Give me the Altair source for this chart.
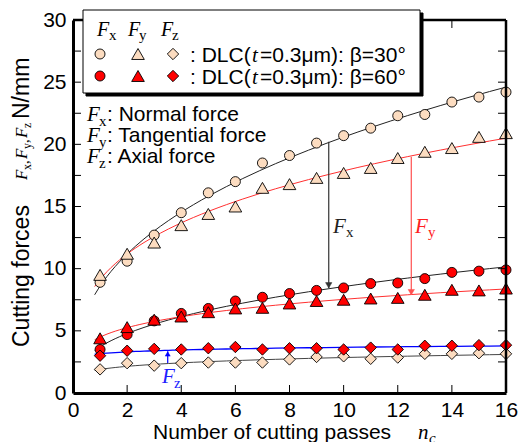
import altair as alt
import pandas as pd

# ---------------- data ----------------
n_passes = list(range(1, 17))
fx_b30 = [8.9, 10.6, 12.7, 14.5, 16.1, 17.0, 18.5, 19.1, 20.1, 20.7, 21.3, 22.3, 22.4, 23.4, 23.8, 24.2]
fy_b30 = [9.5, 11.2, 12.1, 13.5, 14.4, 15.0, 16.5, 16.8, 17.3, 17.7, 18.1, 18.9, 19.4, 19.7, 20.6, 20.9]
fz_b30 = [1.9, 2.4, 2.2, 2.4, 2.45, 2.45, 2.45, 2.7, 2.9, 2.95, 2.75, 2.85, 3.15, 3.15, 3.2, 3.15]
fx_b60 = [3.5, 4.7, 5.8, 6.4, 6.8, 7.4, 7.7, 8.0, 8.25, 8.45, 8.8, 8.85, 9.2, 9.7, 9.8, 9.9]
fy_b60 = [4.4, 5.3, 5.9, 6.15, 6.5, 6.8, 6.85, 7.2, 7.4, 7.5, 7.6, 7.65, 7.9, 8.3, 8.25, 8.4]
fz_b60 = [3.0, 3.4, 3.55, 3.5, 3.6, 3.7, 3.5, 3.6, 3.6, 3.5, 3.65, 3.5, 3.8, 3.8, 3.85, 3.85]

x_label_values = [0, 2, 4, 6, 8, 10, 12, 14, 16]
y_label_values = [0, 5, 10, 15, 20, 25, 30]
x_minor = [2, 4, 6, 8, 10, 12, 14]
y_minor = [2.5, 5, 7.5, 10, 12.5, 15, 17.5, 20, 22.5, 25, 27.5]

# arrows: x position, start value, tip value
arrow_fx = [9.45, 20.2, 8.45]
arrow_fy = [12.5, 19.0, 7.9]
arrow_fz = [3.5, 2.42, 3.35]

# ---------------- layout ----------------
W, H = 433, 373
L, T = 73, 20
SANS = "Liberation Sans"
SERIF = "Liberation Serif"
BEIGE = "#FCDCC0"
RED = "#FF0000"

rows = []
for comp, beta, vals in [("Fx", 30, fx_b30), ("Fy", 30, fy_b30), ("Fz", 30, fz_b30),
                         ("Fx", 60, fx_b60), ("Fy", 60, fy_b60), ("Fz", 60, fz_b60)]:
    for n, v in zip(n_passes, vals):
        rows.append({"n": n, "v": v, "comp": comp, "beta": beta})
df = pd.DataFrame(rows)

xs = alt.Scale(domain=[0, 16], nice=False, zero=False)
ys = alt.Scale(domain=[0, 30], nice=False)
xaxis = alt.Axis(values=x_label_values, title=None, ticks=False, grid=False,
                 labelFont=SANS, labelFontSize=21, labelColor="black", labelPadding=6,
                 labelFlush=False, labelOverlap=False, domainColor="black", domainWidth=3)
yaxis = alt.Axis(values=y_label_values, title=None, ticks=False, grid=False,
                 labelFont=SANS, labelFontSize=21, labelColor="black", labelPadding=7,
                 labelOverlap=False, domainColor="black", domainWidth=3)
X = alt.X("n:Q", scale=xs, axis=xaxis)
Y = alt.Y("v:Q", scale=ys, axis=yaxis)

base = alt.Chart(df)


def series(comp, beta):
    return base.transform_filter((alt.datum.comp == comp) & (alt.datum.beta == beta))


def fit(comp, beta, color, width=1.0):
    return (series(comp, beta)
            .transform_regression("n", "v", method="pow", extent=[0.8, 16])
            .mark_line(color=color, strokeWidth=width)
            .encode(x=X, y=Y))


def pts(comp, beta, shape, fill, size):
    return (series(comp, beta)
            .mark_point(shape=shape, filled=True, fill=fill, stroke="black", strokeWidth=0.9,
                        size=size, opacity=1, fillOpacity=1, strokeOpacity=1)
            .encode(x=X, y=Y))


one = alt.Data(values=[{"a": 1}])


def txt(s, x, y, size=21, font=SANS, style="normal", color="black", angle=0,
        align="left", baseline="alphabetic"):
    return alt.Chart(one).mark_text(
        text=s, font=font, fontSize=size, fontStyle=style, color=color, angle=angle,
        align=align, baseline=baseline).encode(x=alt.value(x - L), y=alt.value(y - T))


def sym(shape, fill, x, y, size):
    return alt.Chart(one).mark_point(
        shape=shape, filled=True, fill=fill, stroke="black", strokeWidth=0.9, size=size,
        opacity=1, fillOpacity=1, strokeOpacity=1).encode(x=alt.value(x - L), y=alt.value(y - T))


def arrow(spec, color, width, head_size, up=False):
    a = pd.DataFrame({"x": [spec[0]], "y1": [spec[1]], "y2": [spec[2]]})
    line = alt.Chart(a).mark_rule(color=color, strokeWidth=width).encode(
        x=alt.X("x:Q", scale=xs, axis=xaxis),
        y=alt.Y("y1:Q", scale=ys, axis=yaxis), y2="y2:Q")
    head = alt.Chart(a).mark_point(
        shape="triangle-up" if up else "triangle-down", filled=True, fill=color,
        stroke=color, strokeWidth=0.5, size=head_size, opacity=1,
        yOffset=2.6 if up else -2.6).encode(
        x=alt.X("x:Q", scale=xs, axis=xaxis), y=alt.Y("y2:Q", scale=ys, axis=yaxis))
    return [line, head]


# minor ticks (inward)
ytk = pd.DataFrame({"t": y_minor})
xtk = pd.DataFrame({"t": x_minor})
ticks = [
    alt.Chart(ytk).mark_rule(color="black", strokeWidth=1).encode(
        y=alt.Y("t:Q", scale=ys, axis=yaxis), x=alt.value(0), x2=alt.value(8)),
    alt.Chart(ytk).mark_rule(color="black", strokeWidth=1).encode(
        y=alt.Y("t:Q", scale=ys, axis=yaxis), x=alt.value(W - 8), x2=alt.value(W)),
    alt.Chart(xtk).mark_rule(color="black", strokeWidth=1).encode(
        x=alt.X("t:Q", scale=xs, axis=xaxis), y=alt.value(H), y2=alt.value(H - 8)),
    alt.Chart(xtk).mark_rule(color="black", strokeWidth=1).encode(
        x=alt.X("t:Q", scale=xs, axis=xaxis), y=alt.value(0), y2=alt.value(8)),
]

frame = [
    alt.Chart(one).mark_rule(color="black", strokeWidth=2.5).encode(
        x=alt.value(0), x2=alt.value(W), y=alt.value(0)),
    alt.Chart(one).mark_rule(color="black", strokeWidth=2.5).encode(
        x=alt.value(W), y=alt.value(0), y2=alt.value(H)),
]

fits = [
    fit("Fx", 30, "#222222"),
    fit("Fy", 30, "#FF3030"),
    fit("Fz", 30, "#444444"),
    fit("Fx", 60, "#222222"),
    fit("Fy", 60, "#FF3030"),
    fit("Fz", 60, "#0000FF", 1.3),
]

arrows = arrow(arrow_fx, "#333333", 1.2, 40) + arrow(arrow_fy, "#FF5050", 1.2, 40) + \
    arrow(arrow_fz, "#0000FF", 1.2, 25, up=True)

points = [
    pts("Fx", 30, "circle", BEIGE, 100),
    pts("Fy", 30, "triangle-up", BEIGE, 160),
    pts("Fz", 30, "diamond", BEIGE, 130),
    pts("Fx", 60, "circle", RED, 100),
    pts("Fy", 60, "triangle-up", RED, 160),
    pts("Fz", 60, "diamond", RED, 130),
]

# legend box with shadow
legend = [
    alt.Chart(one).mark_rect(fill="black", stroke="black").encode(
        x=alt.value(86 - L), x2=alt.value(423 - L), y=alt.value(13 - T), y2=alt.value(96 - T)),
    alt.Chart(one).mark_rect(fill="white", stroke="black", strokeWidth=1).encode(
        x=alt.value(83 - L), x2=alt.value(420 - L), y=alt.value(10 - T), y2=alt.value(93 - T)),
    txt("F", 97, 36, 20, SERIF, "italic"), txt("x", 109, 40, 15, SERIF),
    txt("F", 128, 36, 20, SERIF, "italic"), txt("y", 139, 40, 15, SERIF),
    txt("F", 161, 36, 20, SERIF, "italic"), txt("z", 172, 40, 15, SERIF),
    sym("circle", BEIGE, 100, 54, 100), sym("triangle-up", BEIGE, 138, 54, 160),
    sym("diamond", BEIGE, 173, 54, 130),
    sym("circle", RED, 100, 76, 100), sym("triangle-up", RED, 138, 76, 160),
    sym("diamond", RED, 173, 76, 130),
    txt(": DLC(", 190, 62), txt("t", 252, 62, 21, SERIF, "italic"),
    txt("=0.3μm): β=30°", 260, 62),
    txt(": DLC(", 190, 84), txt("t", 252, 84, 21, SERIF, "italic"),
    txt("=0.3μm): β=60°", 260, 84),
]

notes = [
    txt("F", 87, 121, 21, SERIF, "italic"), txt("x", 99, 126, 15, SERIF),
    txt(": Normal force", 107, 121),
    txt("F", 87, 142, 21, SERIF, "italic"), txt("y", 99, 147, 15, SERIF),
    txt(": Tangential force", 107, 142),
    txt("F", 87, 163, 21, SERIF, "italic"), txt("z", 99, 168, 15, SERIF),
    txt(": Axial force", 107, 163),
    txt("F", 333, 233, 21, SERIF, "italic", "#222222"), txt("x", 346, 237, 15, SERIF, color="#222222"),
    txt("F", 415, 233, 21, SERIF, "italic", "#FF2020"), txt("y", 428, 237, 15, SERIF, color="#FF2020"),
    txt("F", 162, 383, 21, SERIF, "italic", "#2020FF"), txt("z", 174, 388, 15, SERIF, color="#2020FF"),
]

titles = [
    txt("Number of cutting passes", 153, 439, 21),
    txt("n", 418, 439, 21, SERIF, "italic"), txt("c", 429, 443, 15, SERIF, "italic"),
    txt("Cutting forces", 29, 347, 23, angle=270),
    txt("F", 27, 180, 17, SERIF, "italic", angle=270), txt("x", 31, 170, 12, SERIF, angle=270),
    txt(",", 29, 164, 15, SERIF, angle=270),
    txt("F", 27, 159, 17, SERIF, "italic", angle=270), txt("y", 31, 149, 12, SERIF, angle=270),
    txt(",", 29, 143, 15, SERIF, angle=270),
    txt("F", 27, 138, 17, SERIF, "italic", angle=270), txt("z", 31, 128, 12, SERIF, angle=270),
    txt("N/mm", 29, 119, 23, angle=270),
]

chart = alt.layer(
    *fits, *arrows, *points, *ticks, *frame, *legend, *notes, *titles
).properties(
    width=W, height=H, autosize="none",
    padding={"left": L, "top": T, "right": 518 - L - W, "bottom": 442 - T - H},
).configure_view(stroke="transparent")

chart.save("out.html", embed_options={"renderer": "svg", "actions": False})
